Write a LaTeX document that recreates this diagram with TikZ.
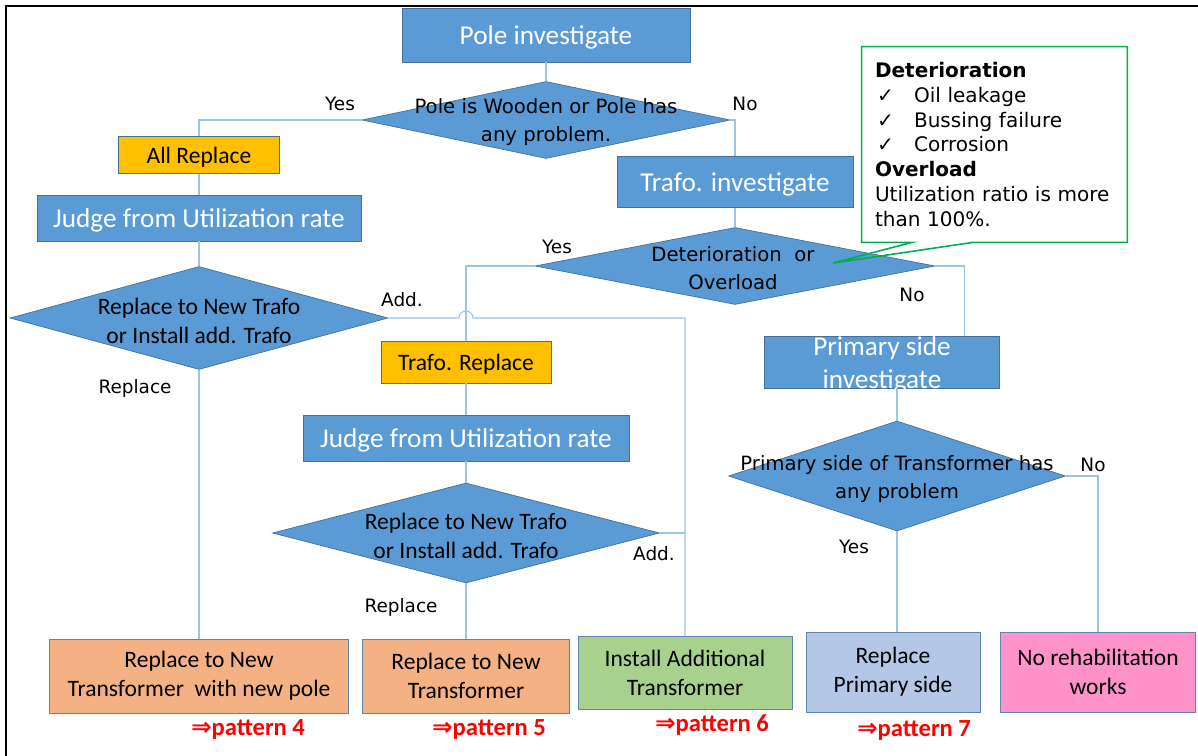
\documentclass[tikz,border=0pt]{standalone}
\usepackage{fontspec}
\setmainfont{Carlito}
\newfontfamily\meiryo{DejaVu Sans}
\usetikzlibrary{shapes.geometric,calc,positioning}

\definecolor{boxblue}{HTML}{5B9BD5}
\definecolor{edgeblue}{HTML}{41719C}
\definecolor{lineblue}{HTML}{9DC3E6}
\definecolor{amber}{HTML}{FFC000}
\definecolor{peach}{HTML}{F4B183}
\definecolor{leaf}{HTML}{A9D18E}
\definecolor{pale}{HTML}{B4C7E7}
\definecolor{rose}{HTML}{FF93C9}
\definecolor{notegreen}{HTML}{00B050}

\newcommand{\chk}{\makebox[0.78cm][l]{\hspace{0.04cm}✓}}

\begin{document}
\begin{tikzpicture}[x=0.02cm, y=-0.02cm,
        stepbox/.style={rectangle, draw=edgeblue, fill=boxblue, text=white, inner sep=0pt, align=center, text depth=0pt, font=\fontsize{15.5}{19}\selectfont},
        tag/.style={rectangle, draw=edgeblue, fill=amber, inner sep=0pt, text depth=0pt, font=\fontsize{13.4}{16}\selectfont},
        decision/.style={diamond, draw=edgeblue, fill=boxblue, inner sep=0pt},
        dtext/.style={align=center, inner sep=0pt, font=\fontsize{13.4}{16.5}\selectfont},
        mtext/.style={align=center, inner sep=0pt, font=\meiryo\fontsize{11.2}{16}\selectfont},
        result/.style={rectangle, draw=edgeblue!85, inner sep=0pt, align=center, font=\fontsize{13.4}{16.5}\selectfont},
        link/.style={draw=lineblue, line width=0.6pt},
        lbl/.style={inner sep=0pt, font=\meiryo\fontsize{10.5}{12}\selectfont},
        pattern/.style={inner sep=0pt, text=red, font=\bfseries\fontsize{14}{16}\selectfont}
    ]
    \useasboundingbox (0,0) rectangle (1198,756);
    \draw[line width=1.2pt] (6,756) -- (6,6) -- (1198,6);

    % Pole check
    \node[stepbox, minimum width=5.76cm, minimum height=1.08cm] (pinv) at (546,35) {Pole investigate};
    \node[decision, minimum width=7.36cm, minimum height=1.54cm] (pdiam) at (546,120) {};
    \node[mtext] (pdiam-t) at (546,122) {Pole is Wooden or Pole has\\any problem.};

    % Left branch: pole and trafo replaced together
    \node[tag, minimum width=3.22cm, minimum height=0.74cm] (allrep) at (199,155) {All Replace};
    \node[stepbox, minimum width=6.48cm, minimum height=0.92cm] (ljudge) at (199,218) {Judge from Utilization rate};
    \node[decision, minimum width=7.56cm, minimum height=2.06cm] (ldiam) at (199,318) {};
    \node[dtext] (ldiam-t) at (199,321) {Replace to New Trafo\\or Install add. Trafo};

    % Trafo check
    \node[stepbox, minimum width=4.72cm, minimum height=1.02cm] (tinv) at (735,182) {Trafo. investigate};
    \node[decision, minimum width=8cm, minimum height=1.54cm] (ddiam) at (735,266) {};
    \node[mtext] (ddiam-t) at (733,268) {Deterioration\ \ or\\Overload};

    % Middle branch
    \node[tag, minimum width=3.4cm, minimum height=0.84cm] (trep) at (466,362) {Trafo. Replace};
    \node[stepbox, minimum width=6.52cm, minimum height=0.92cm] (mjudge) at (466,438) {Judge from Utilization rate};
    \node[decision, minimum width=7.74cm, minimum height=2cm] (mdiam) at (466,533) {};
    \node[dtext] (mdiam-t) at (466,536) {Replace to New Trafo\\or Install add. Trafo};

    % Primary side check
    \node[stepbox, minimum width=4.7cm, minimum height=1.04cm] (prim) at (882,362) {};
    \node[align=center, inner sep=0pt, text=white, font=\fontsize{15.5}{19}\selectfont] (prim-t) at (882,365) {Primary side\\investigate};
    \node[decision, minimum width=6.74cm, minimum height=2.2cm] (psdiam) at (897,476) {};
    \node[mtext] (psdiam-t) at (897,479) {Primary side of Transformer has\\any problem};

    % Outcomes
    \node[result, fill=peach, minimum width=5.98cm, minimum height=1.48cm] (boxA) at (199,676) {Replace to New\\Transformer\ \ with new pole};
    \node[result, fill=peach, minimum width=4.14cm, minimum height=1.48cm] (boxB) at (466,676) {Replace to New\\Transformer};
    \node[result, fill=leaf, minimum width=4.28cm, minimum height=1.46cm] (boxC) at (685,673) {Install Additional\\Transformer};
    \node[result, fill=pale, minimum width=3.48cm, minimum height=1.6cm] (boxD) at (893,672) {Replace\\Primary side};
    \node[result, fill=rose, minimum width=3.9cm, minimum height=1.6cm] (boxE) at (1098,672) {No rehabilitation\\works};

    \node[pattern] (pat4) at (248,729) {{\meiryo ⇒}pattern 4};
    \node[pattern] (pat5) at (489,729) {{\meiryo ⇒}pattern 5};
    \node[pattern] (pat6) at (712,725) {{\meiryo ⇒}pattern 6};
    \node[pattern] (pat7) at (914,730) {{\meiryo ⇒}pattern 7};

    % Connections
    \draw[link] (pinv) -- (pdiam);
    \draw[link] (pdiam.west) -| (allrep.north);
    \draw[link] (allrep) -- (ljudge);
    \draw[link] (ljudge) -- (ldiam);
    \draw[link] (ldiam.south) -- (boxA.north);
    \draw[link] (pdiam.east) -| (tinv.north);
    \draw[link] (tinv) -- (ddiam);
    \draw[link] (ddiam.west) -| (trep.north);
    \draw[link] (trep) -- (mjudge);
    \draw[link] (mjudge) -- (mdiam);
    \draw[link] (mdiam.south) -- (boxB.north);
    \coordinate (hop) at (trep.north |- ldiam.east);
    \draw[link] (ldiam.east) -- ([xshift=-0.14cm]hop) arc[start angle=180, end angle=0, radius=0.14cm]
        -- (boxC.north |- ldiam.east) -- (boxC.north);
    \draw[link] (mdiam.east) -- (boxC.north |- mdiam.east);
    \draw[link] (ddiam.east) -| ($(prim.north east)+(-35,0)$);
    \draw[link] (psdiam.north |- prim.south) -- (psdiam.north);
    \draw[link] (psdiam.south) -- (psdiam.south |- boxD.north);
    \draw[link] (psdiam.east) -| (boxE.north);

    % Branch labels
    \node[lbl] (yes1) at (340,104) {Yes};
    \node[lbl] (no1) at (745,104) {No};
    \node[lbl] (yes2) at (557,247) {Yes};
    \node[lbl] (no2) at (912,295) {No};
    \node[lbl] (add1) at (402,300) {Add.};
    \node[lbl] (rep1) at (135,388) {Replace};
    \node[lbl] (rep2) at (401,607) {Replace};
    \node[lbl] (add2) at (654,554) {Add.};
    \node[lbl] (no3) at (1093,465) {No};
    \node[lbl] (yes3) at (854,547) {Yes};

    % Callout for the trafo criteria
    \node[fill=white, minimum width=5.3cm, minimum height=3.9cm, inner xsep=0.26cm, inner ysep=0pt,
          text width=4.78cm, align=left, font=\meiryo\fontsize{11.4}{14.2}\selectfont] (note) at (994.5,144.5)
        {\textbf{Deterioration}\\
         \chk Oil leakage\\
         \chk Bussing failure\\
         \chk Corrosion\\
         \textbf{Overload}\\
         Utilization ratio is more\\
         than 100\%.};
    \coordinate (tip) at (833,263);
    \draw[notegreen, line width=0.9pt] ($(note.south west)!0.19!(note.south east)$) -- (note.south west)
        -- (note.north west) -- (note.north east) -- (note.south east)
        -- ($(note.south west)!0.42!(note.south east)$) -- (tip) -- cycle;
\end{tikzpicture}
\end{document}
